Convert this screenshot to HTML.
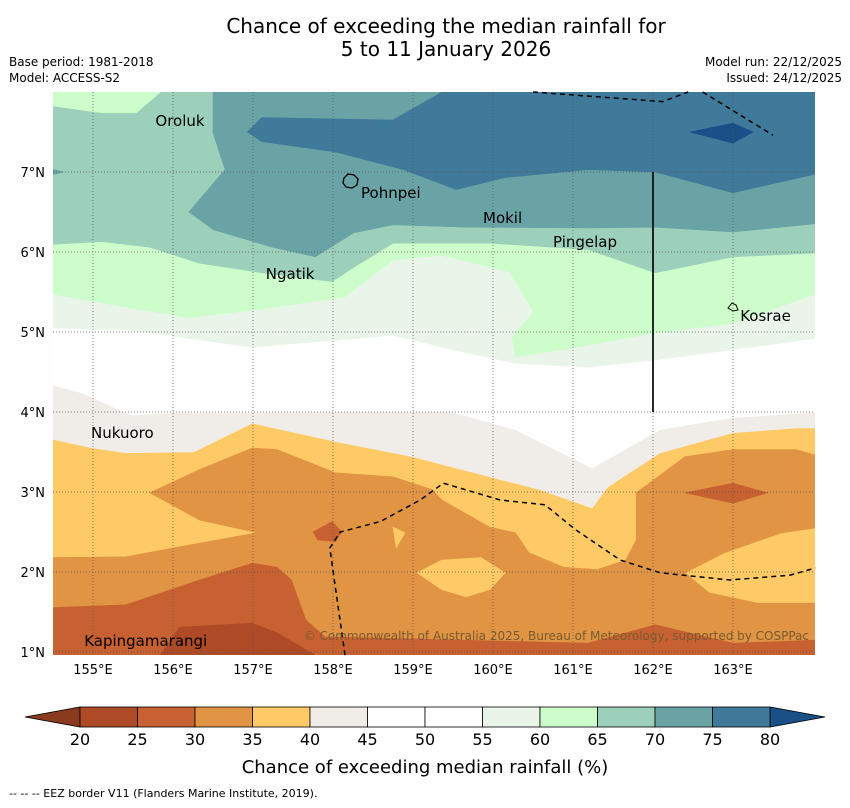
<!DOCTYPE html>
<html><head><meta charset="utf-8">
<style>
body{margin:0;background:#fff;width:850px;height:804px;overflow:hidden;font-family:"DejaVu Sans","Liberation Sans",sans-serif;}
svg text{font-family:"DejaVu Sans","Liberation Sans",sans-serif;}
</style></head>
<body>
<svg id="c" width="850" height="804" xmlns="http://www.w3.org/2000/svg">
<rect width="850" height="804" fill="#fefefe"/>
<text x="446" y="33" font-size="20" text-anchor="middle">Chance of exceeding the median rainfall for</text>
<text x="446" y="56" font-size="20" text-anchor="middle">5 to 11 January 2026</text>
<text x="9" y="66" font-size="12">Base period: 1981-2018</text>
<text x="9" y="82" font-size="12">Model: ACCESS-S2</text>
<text x="842" y="66" font-size="12" text-anchor="end">Model run: 22/12/2025</text>
<text x="842" y="82" font-size="12" text-anchor="end">Issued: 24/12/2025</text>
<defs><clipPath id="pc"><rect x="53" y="92" width="762" height="563"/></clipPath></defs>
<g id="plot" clip-path="url(#pc)"></g>
<g id="over"></g>
<g id="cbar"></g>
<text x="425" y="773" font-size="18" text-anchor="middle">Chance of exceeding median rainfall (%)</text>
<text x="9" y="797" font-size="11">--  --  -- EEZ border V11 (Flanders Marine Institute, 2019).</text>
</svg>
<script>
// colour scale
const levels=[20,25,30,35,40,45,50,55,60,65,70,75,80];
const bandColors=["#ae4a26","#c86131","#e09444","#fdca65","#f0ece7","#ffffff","#ffffff","#eaf5e9","#ccfdcb","#9dd0bb","#6aa3a5","#3f7a9a"];
const underColor="#8a3a1e", overColor="#1a5088";
const lonTicks=[155,156,157,158,159,160,161,162,163];
const latTicks=[1,2,3,4,5,6,7];
// contour band polygons in [lon, lat]
const band30=[[155.71,2.99],[156.33,3.28],[156.99,3.55],[157.30,3.53],[158.03,3.24],[158.75,3.19],[159.24,3.03],[159.36,2.90],[159.96,2.56],[160.28,2.49],[160.45,2.24],[160.88,2.06],[161.30,2.03],[161.66,2.15],[161.79,2.40],[161.79,2.99],[162.40,3.44],[163.00,3.53],[163.79,3.53],[164.1,3.44],[164.1,2.56],[163.61,2.49],[162.89,2.24],[162.40,1.99],[162.70,1.74],[163.31,1.61],[164.1,1.61],[164.1,0.9],[154.4,0.9],[154.4,2.18],[155.41,2.19],[156.33,2.36],[157.05,2.49],[156.33,2.65]];
const band35tri=[[158.75,2.56],[158.90,2.49],[158.79,2.30]];
const band35lens=[[159.05,1.99],[159.36,2.15],[159.85,2.18],[160.15,1.99],[159.96,1.78],[159.66,1.69],[159.36,1.78]];
const band25=[[154.4,1.55],[155.41,1.59],[156.33,1.90],[156.99,2.11],[157.30,2.06],[157.48,1.90],[157.66,1.40],[157.90,1.19],[161.19,1.11],[162.03,1.34],[163.00,1.11],[164.1,1.15],[164.1,0.9],[154.4,0.9]];
const band25blob=[[157.75,2.50],[157.99,2.63],[158.11,2.50],[158.03,2.38],[157.81,2.40]];
const band25diamond=[[162.40,2.99],[163.00,3.11],[163.43,2.99],[163.00,2.86]];
const band20=[[155.84,0.9],[155.84,0.96],[156.08,1.31],[156.99,1.36],[157.30,1.24],[157.78,0.96],[157.78,0.9]];
const line40=[[154.4,3.68],[154.99,3.55],[155.41,3.49],[156.26,3.50],[156.99,3.86],[158.03,3.63],[159.0,3.44],[159.96,3.19],[160.58,3.03],[161.24,2.80],[161.43,3.06],[162.09,3.49],[163.0,3.74],[163.79,3.80],[164.1,3.80]];
const line45=[[154.4,4.36],[154.86,4.24],[155.48,3.96],[155.99,3.99],[158.15,4.0],[159.48,4.0],[160.28,3.78],[161.24,3.30],[162.09,3.78],[163.0,3.93],[164.1,4.0]];
const line55=[[154.4,5.05],[155.41,5.03],[156.99,4.81],[158.75,4.96],[159.66,4.74],[160.28,4.61],[161.19,4.56],[162.03,4.65],[163.0,4.78],[164.1,4.93]];
const line60=[[154.4,5.49],[155.59,5.28],[156.2,5.18],[157.05,5.28],[158.15,5.44],[158.75,5.90],[159.36,5.96],[160.21,5.75],[160.51,5.25],[160.24,4.94],[160.28,4.69],[160.88,4.78],[162.03,4.99],[163.0,5.11],[164.1,5.50]];
const line65=[[154.4,6.09],[155.11,6.13],[155.71,6.06],[156.33,5.86],[157.11,5.74],[157.99,5.63],[158.26,5.81],[158.75,6.11],[159.96,6.11],[161.19,6.03],[162.03,5.74],[163.0,5.94],[164.1,5.99]];
const band60corner=[[154.4,8.1],[154.4,7.84],[155.11,7.74],[155.54,7.74],[155.96,8.1]];
const band70=[[156.5,8.1],[164.1,8.1],[164.1,6.36],[163.0,6.25],[162.03,6.31],[161.19,6.30],[159.66,6.31],[158.75,6.34],[158.26,6.24],[157.78,5.94],[157.24,6.06],[156.5,6.28],[156.2,6.5],[156.65,7.03],[156.5,7.49]];
const band70wedge=[[154.4,7.06],[154.63,7.0],[154.4,6.94]];
const band75=[[159.54,8.1],[158.75,7.65],[157.11,7.68],[156.93,7.5],[157.11,7.38],[158.03,7.25],[158.88,7.03],[159.54,6.78],[160.15,6.93],[161.19,7.03],[162.03,7.0],[163.0,6.74],[164.1,6.99],[164.1,8.1]];
const band80=[[162.46,7.5],[163.0,7.61],[163.25,7.5],[163.0,7.36]];
const eezTop1=[[160.5,8.0],[162.12,7.88],[162.44,8.0]];
const eezTop2=[[162.62,8.0],[163.5,7.46]];
const eezSouth=[[158.15,0.96],[157.96,2.30],[158.09,2.50],[158.59,2.63],[159.09,2.90],[159.38,3.11],[160.09,2.90],[160.65,2.84],[161.03,2.53],[161.59,2.15],[162.09,1.99],[162.96,1.90],[163.71,1.96],[164.03,2.05]];
const places=["Oroluk","Pohnpei","Mokil","Pingelap","Ngatik","Kosrae","Nukuoro","Kapingamarangi"];
const placeLon=[155.78,158.35,159.875,160.75,157.16,163.09,154.975,154.89];
const placeLat=[7.575,6.675,6.36,6.06,5.66,5.14,3.675,1.075];

const X=lon=>53+(lon-154.5)*80;
const Y=lat=>92+(8-lat)*80;
const NS="http://www.w3.org/2000/svg";
const plot=document.getElementById('plot'), over=document.getElementById('over'), cbar=document.getElementById('cbar');
function mk(tag,attrs,parent){const e=document.createElementNS(NS,tag);for(const k in attrs)e.setAttribute(k,attrs[k]);parent.appendChild(e);return e;}
function pts(a){return a.map(p=>X(p[0]).toFixed(1)+','+Y(p[1]).toFixed(1)).join(' ');}
function poly(a,fill,name){const e=mk('polygon',{points:pts(a),fill:fill,stroke:fill,'stroke-width':0.6},plot);

return e;}
function above(line){return line.concat([[164.1,8.1],[154.4,8.1]]);}

const base=mk('rect',{x:53,y:92,width:762,height:563,fill:bandColors[3]},plot);


poly(band30,bandColors[2],'band-30-35');
poly(band35tri,bandColors[3],'band-35-40-patch');
poly(band35lens,bandColors[3],'band-35-40-lens');
poly(band25,bandColors[1],'band-25-30');
poly(band25blob,bandColors[1],'band-25-30-blob');
poly(band25diamond,bandColors[1],'band-25-30-diamond');
poly(band20,bandColors[0],'band-20-25');
poly(above(line40),bandColors[4],'band-40-45');
poly(above(line45),bandColors[5],'band-45-55');
poly(above(line55),bandColors[7],'band-55-60');
poly(above(line60),bandColors[8],'band-60-65');
poly(above(line65),bandColors[9],'band-65-70');
poly(band60corner,bandColors[8],'band-60-65-corner');
poly(band70,bandColors[10],'band-70-75');
poly(band70wedge,bandColors[10],'band-70-75-wedge');
poly(band75,bandColors[11],'band-75-80');
poly(band80,overColor,'band-over-80');

// grid
lonTicks.forEach(l=>{const g=mk('line',{x1:X(l),x2:X(l),y1:92,y2:655,stroke:'#555','stroke-width':0.7,'stroke-dasharray':'1,2'},over);


const t=mk('text',{x:X(l),y:674,'font-size':13,'text-anchor':'middle'},over);t.textContent=l+'°E';

});
latTicks.forEach(l=>{const y=Y(l);const g=mk('line',{x1:53,x2:815,y1:y,y2:y,stroke:'#555','stroke-width':0.7,'stroke-dasharray':'1,2'},over);


const t=mk('text',{x:45,y:y+5,'font-size':13,'text-anchor':'end'},over);t.textContent=l+'°N';

});
// EEZ
[eezTop1,eezTop2,eezSouth].forEach(a=>{const e=mk('polyline',{points:pts(a),fill:'none',stroke:'#000','stroke-width':1.5,'stroke-dasharray':'5,4'},over);

});
const vl=mk('line',{x1:X(162),x2:X(162),y1:Y(7),y2:Y(4),stroke:'#111','stroke-width':1.8},over);


// islands
const pi=mk('path',{d:'M344,178 l4,-4 l6,1 l4,4 l-1,6 l-5,3 l-6,-1 l-3,-4z',fill:'none',stroke:'#000','stroke-width':1.3},over);


const ki=mk('path',{d:'M728,308 l4,-5 l4,2 l2,5 l-5,1z',fill:'none',stroke:'#000','stroke-width':1},over);


places.forEach((p,i)=>{const t=mk('text',{x:X(placeLon[i]),y:Y(placeLat[i]),'font-size':15},over);t.textContent=p;

});
const cp=mk('text',{x:809,y:640,'font-size':12,'text-anchor':'end',fill:'#7a5a30'},over);cp.textContent='© Commonwealth of Australia 2025, Bureau of Meteorology, supported by COSPPac';



// colorbar
const CX=v=>80+(v-20)*(690/60);
const cy=707,ch=20;
const tl=mk('polygon',{points:`25,${cy+ch/2} ${CX(20)},${cy} ${CX(20)},${cy+ch}`,fill:underColor,stroke:'#000','stroke-width':0.8},cbar);


const tr=mk('polygon',{points:`825,${cy+ch/2} ${CX(80)},${cy} ${CX(80)},${cy+ch}`,fill:overColor,stroke:'#000','stroke-width':0.8},cbar);


bandColors.forEach((c,i)=>{const r=mk('rect',{x:CX(levels[i]),y:cy,width:CX(levels[i+1])-CX(levels[i]),height:ch,fill:c,stroke:'#000','stroke-width':0.8},cbar);

});
levels.forEach(v=>{const t=mk('text',{x:CX(v),y:745,'font-size':16,'text-anchor':'middle'},cbar);t.textContent=v;

});
</script>
</body></html>
